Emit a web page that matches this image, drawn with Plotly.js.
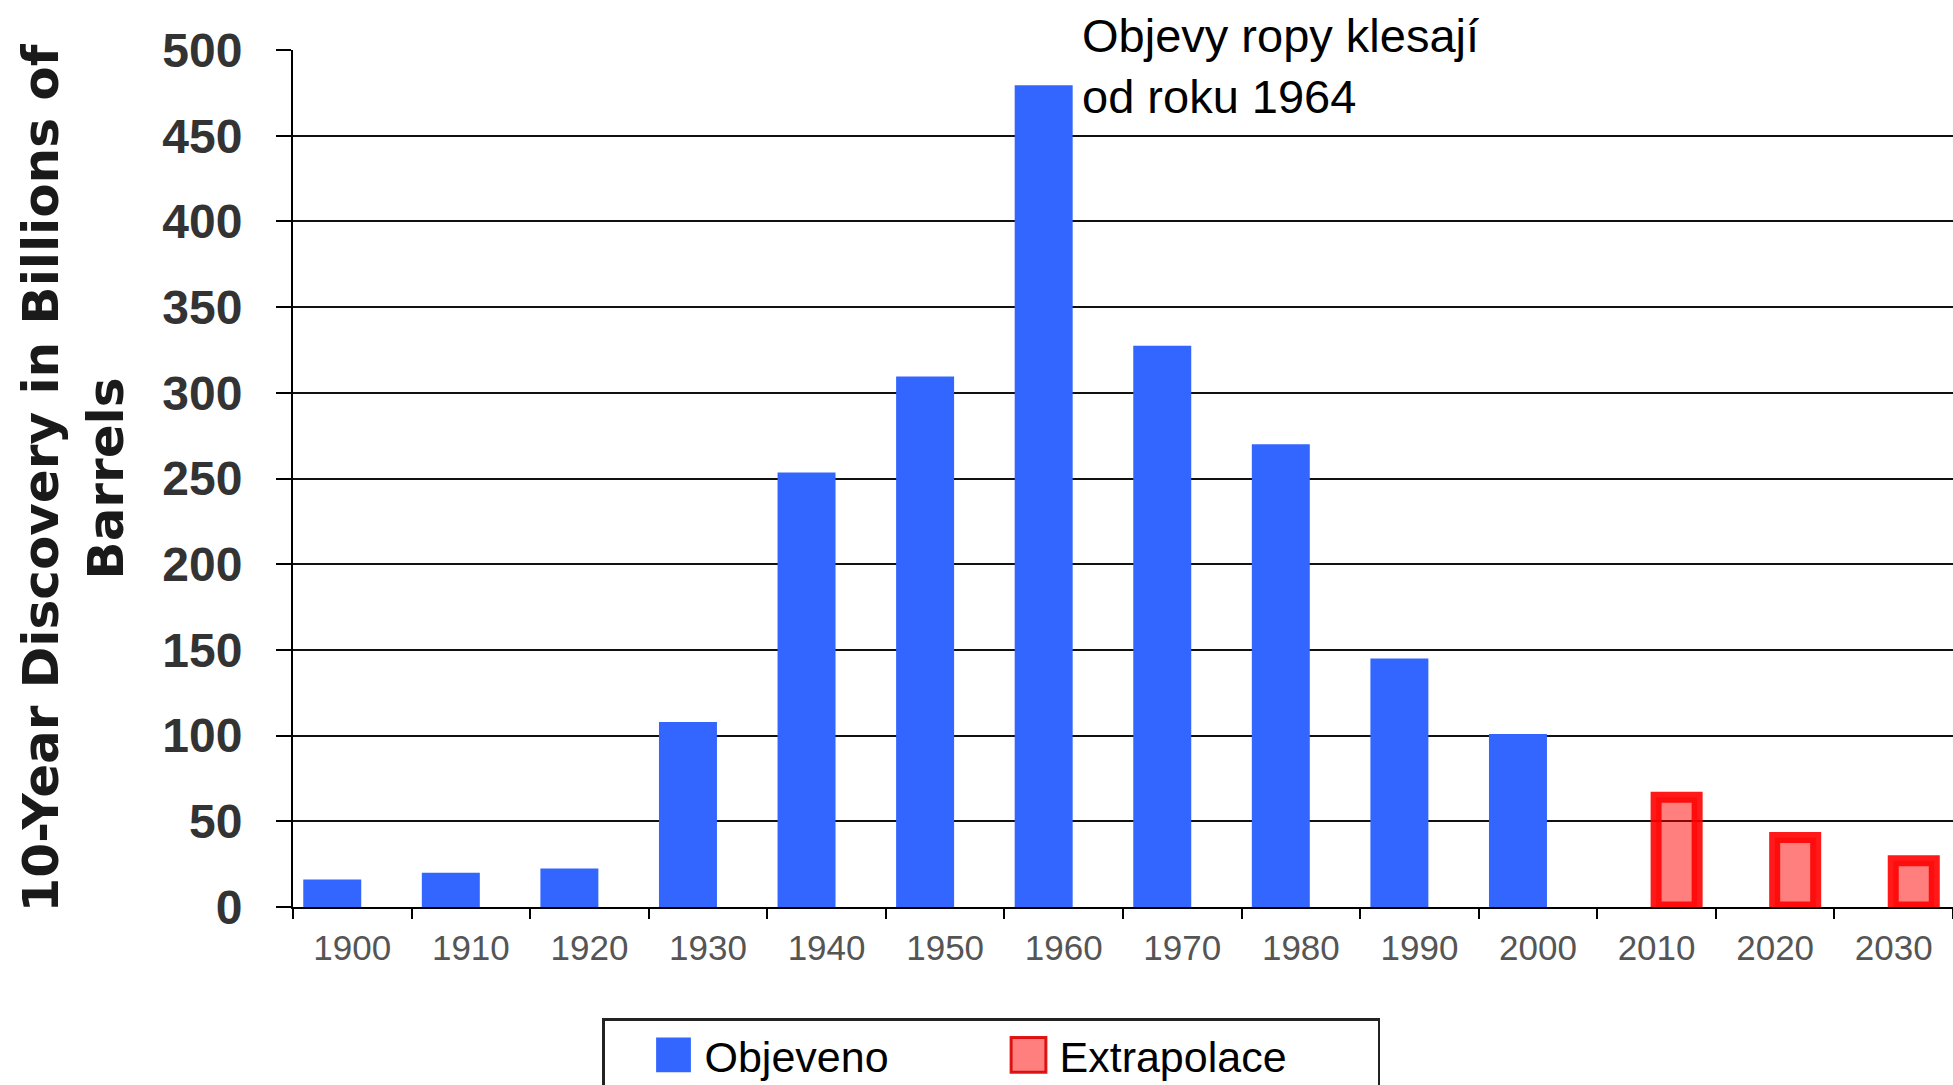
<!DOCTYPE html>
<html>
<head>
<meta charset="utf-8">
<script src="https://cdn.plot.ly/plotly-3.0.1.min.js"></script>
<style>
  html, body { margin: 0; padding: 0; background: #ffffff; }
  #chart { width: 1953px; height: 1085px; }
</style>
</head>
<body>
<div id="chart"></div>
<script>
// ---- data ----
const categories = ['1900','1910','1920','1930','1940','1950','1960','1970','1980','1990','2000','2010','2020','2030'];
const discoveredYears = ['1900','1910','1920','1930','1940','1950','1960','1970','1980','1990','2000'];
const discoveredValues = [16, 20, 22.5, 108, 253.5, 309.5, 479.5, 327.5, 270, 145, 101];
const extrapolatedYears = ['2010','2020','2030'];
const extrapolatedValues = [64, 40.5, 27];
const yTicks = [0, 50, 100, 150, 200, 250, 300, 350, 400, 450, 500];
const seriesNames = ['Objeveno', 'Extrapolace'];
const yTitle = '10-Year Discovery in Billions of<br>Barrels';
const noteText = 'Objevy ropy klesají<br>od roku 1964';

// ---- styles ----
const BLUE = '#3366ff';
const LEGEND_ITEM_WIDTH = 90;
const LEGEND_BOX_WIDTH = 778;

const traces = [
  {
    type: 'bar',
    name: seriesNames[0],
    x: discoveredYears,
    y: discoveredValues,
    xaxis: 'x',
    yaxis: 'y',
    width: 0.489,
    offset: -0.4135,
    marker: { color: BLUE, line: { width: 0 } },
    hoverinfo: 'x+y+name'
  },
  {
    type: 'bar',
    name: seriesNames[1],
    x: extrapolatedYears,
    y: extrapolatedValues,
    xaxis: 'x',
    yaxis: 'y2',
    width: 0.346,
    offset: -0.004,
    marker: { color: 'rgba(255,0,0,0.5)', line: { color: 'rgba(255,0,0,0.9)', width: 11 } },
    hoverinfo: 'x+y+name'
  }
];

const innerTicks = yTicks.filter(v => v > yTicks[0] && v < yTicks[yTicks.length - 1]);
const yRange = [yTicks[0], yTicks[yTicks.length - 1]];

const layout = {
  width: 1953,
  height: 1085,
  paper_bgcolor: '#ffffff',
  plot_bgcolor: '#ffffff',
  margin: { l: 293, r: 0, t: 50, b: 178, autoexpand: false },
  barmode: 'overlay',
  showlegend: true,
  font: { family: 'Liberation Sans, Arial, sans-serif', color: '#000' },
  xaxis: {
    type: 'category',
    categoryorder: 'array',
    categoryarray: categories,
    range: [-0.5, categories.length - 0.5],
    showline: true,
    linecolor: '#000',
    linewidth: 2,
    ticks: 'outside',
    tickson: 'boundaries',
    ticklen: 10,
    tickwidth: 2,
    tickcolor: '#000',
    showgrid: false,
    zeroline: false,
    tickfont: { family: 'Liberation Sans, Arial, sans-serif', size: 35, color: '#555' },
    ticklabelstandoff: 9,
    fixedrange: true
  },
  yaxis: {
    range: yRange,
    tickmode: 'array',
    tickvals: innerTicks,
    showticklabels: false,
    ticks: '',
    showgrid: true,
    gridcolor: '#111',
    gridwidth: 2.4,
    showline: false,
    zeroline: false,
    fixedrange: true
  },
  yaxis2: {
    overlaying: 'y',
    side: 'left',
    range: yRange,
    tickmode: 'array',
    tickvals: yTicks,
    showgrid: false,
    zeroline: false,
    showline: true,
    linecolor: '#000',
    linewidth: 2,
    ticks: 'outside',
    ticklen: 15,
    tickwidth: 2,
    tickcolor: '#000',
    ticklabelstandoff: 24,
    tickfont: { family: 'Liberation Sans, Arial, sans-serif', size: 48, color: '#333', weight: 'bold' },
    title: {
      text: yTitle,
      font: { family: 'DejaVu Sans, sans-serif', size: 50, color: '#1a1a1a', weight: 'bold' },
      standoff: 23
    },
    fixedrange: true
  },
  legend: {
    orientation: 'h',
    x: (602 - 293) / 1660,
    xanchor: 'left',
    y: (907 - 1018) / 857,
    yanchor: 'top',
    bgcolor: '#ffffff',
    bordercolor: '#222',
    borderwidth: 2.5,
    itemwidth: LEGEND_ITEM_WIDTH,
    entrywidth: 250,
    font: { family: 'Liberation Sans, Arial, sans-serif', size: 43, color: '#000' }
  },
  annotations: [
    {
      text: noteText,
      xref: 'paper',
      yref: 'paper',
      x: (1080 - 293) / 1660,
      y: 1.05,
      xanchor: 'left',
      yanchor: 'top',
      align: 'left',
      showarrow: false,
      font: { family: 'Liberation Sans, Arial, sans-serif', size: 47, color: '#000' }
    }
  ]
};

Plotly.newPlot('chart', traces, layout, { displayModeBar: false, responsive: false }).then(function (gd) {
  // enlarge legend swatches to match the reference's big squares
  const center = LEGEND_ITEM_WIDTH + 10 - 31;
  gd.querySelectorAll('.legend .legendpoints path').forEach(function (p) {
    p.setAttribute('transform', 'translate(' + center + ',0) scale(2.9)');
    p.style.vectorEffect = 'non-scaling-stroke';
    const sw = parseFloat(p.style.strokeWidth || '0');
    if (sw > 0) { p.style.strokeWidth = '3px'; p.style.stroke = 'rgb(220,0,0)'; }
  });
  // widen the legend frame like the reference
  const bg = gd.querySelector('.legend rect.bg');
  if (bg) { bg.setAttribute('width', LEGEND_BOX_WIDTH - 2.5); }
});
</script>
</body>
</html>
